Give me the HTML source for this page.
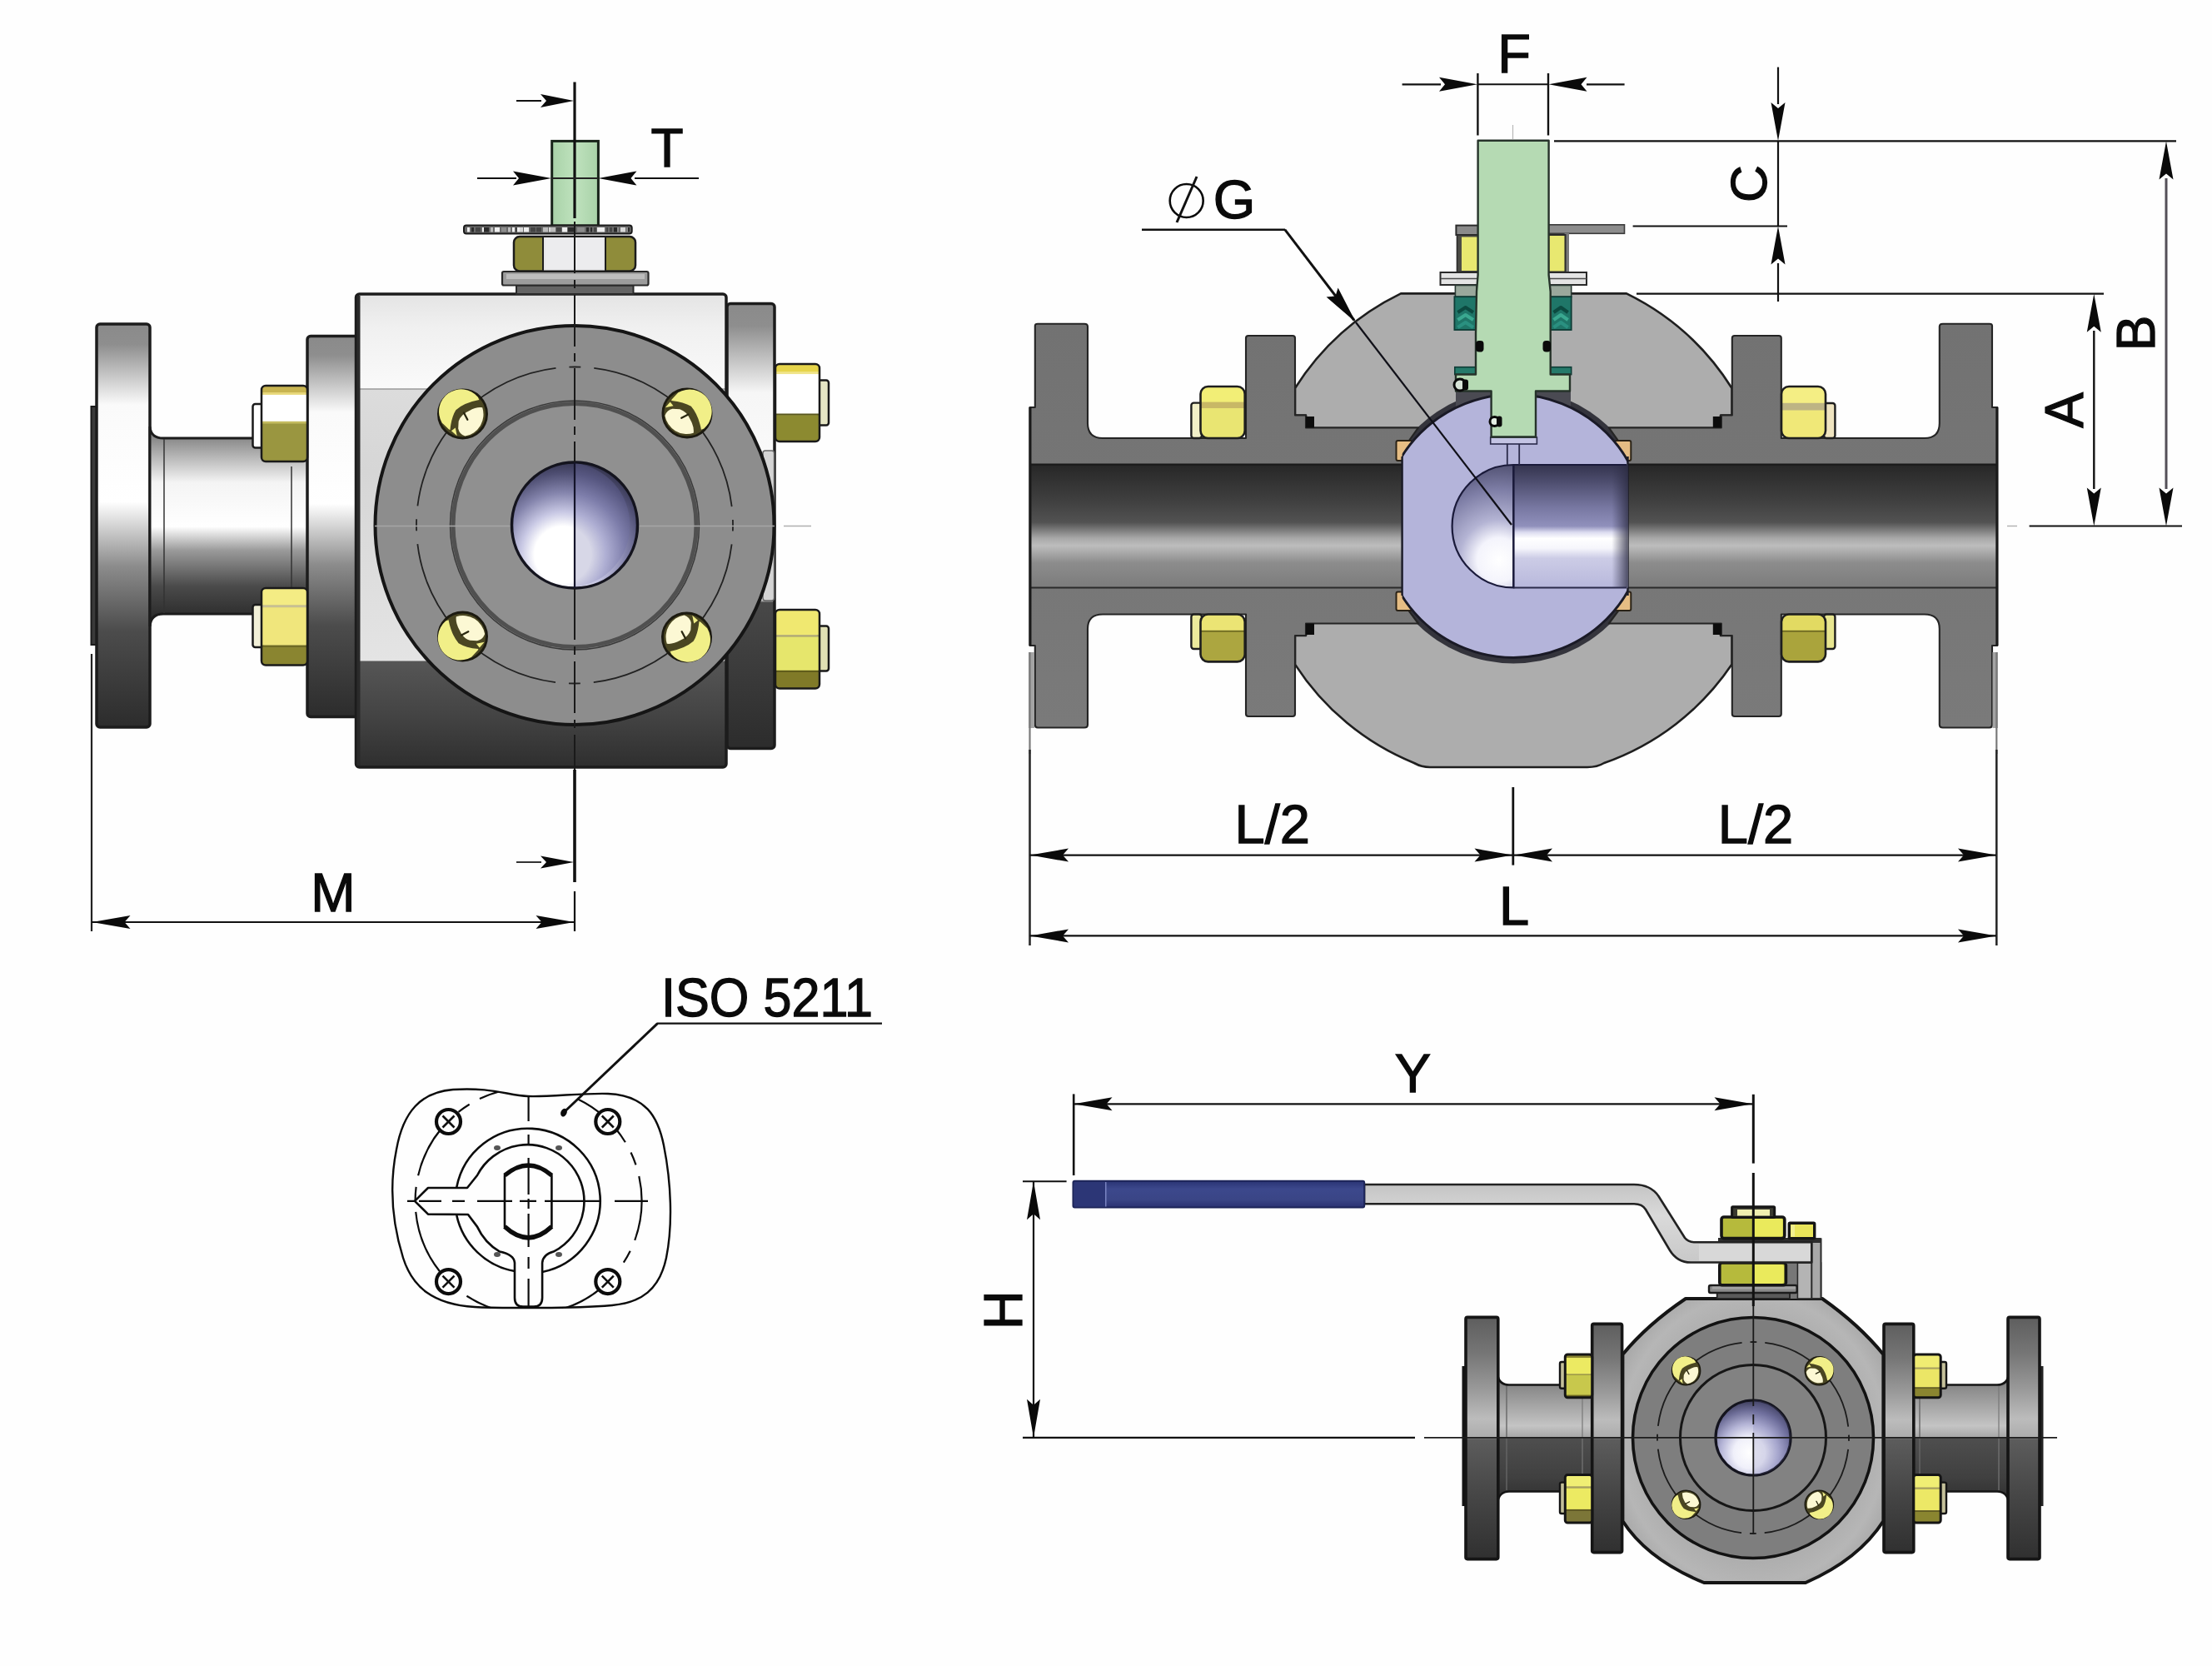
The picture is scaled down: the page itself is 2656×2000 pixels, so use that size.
<!DOCTYPE html>
<html><head><meta charset="utf-8"><title>Valve dimensions</title>
<style>
html,body{margin:0;padding:0;background:#fefefe;}
body{width:2656px;height:2000px;overflow:hidden;}
svg{display:block;font-family:"Liberation Sans",sans-serif;}
text{fill:#0a0a0a;stroke:#0a0a0a;stroke-width:1.3px;}
</style></head><body>
<svg width="2656" height="2000" viewBox="0 0 2656 2000">
<rect width="2656" height="2000" fill="#fefefe"/>
<defs><linearGradient id="fl1" x1="0" y1="0" x2="0" y2="1"><stop offset="0" stop-color="#8a8a8a"/><stop offset="0.05" stop-color="#8e8e8e"/><stop offset="0.2" stop-color="#fafafa"/><stop offset="0.44" stop-color="#ffffff"/><stop offset="0.6" stop-color="#8c8c8c"/><stop offset="0.76" stop-color="#4c4c4c"/><stop offset="1" stop-color="#2c2c2c"/></linearGradient><linearGradient id="fl1r" x1="0" y1="0" x2="0" y2="1"><stop offset="0" stop-color="#8a8a8a"/><stop offset="0.05" stop-color="#8e8e8e"/><stop offset="0.2" stop-color="#f6f6f6"/><stop offset="0.6" stop-color="#ffffff"/><stop offset="0.665" stop-color="#f4f4f4"/><stop offset="0.672" stop-color="#484848"/><stop offset="1" stop-color="#2c2c2c"/></linearGradient><linearGradient id="nk1" x1="0" y1="0" x2="0" y2="1"><stop offset="0" stop-color="#6c6c6c"/><stop offset="0.06" stop-color="#8a8a8a"/><stop offset="0.28" stop-color="#f4f4f4"/><stop offset="0.5" stop-color="#ffffff"/><stop offset="0.62" stop-color="#9a9a9a"/><stop offset="0.8" stop-color="#4a4a4a"/><stop offset="1" stop-color="#232323"/></linearGradient><linearGradient id="bodyTop" x1="0" y1="0" x2="0" y2="1"><stop offset="0" stop-color="#e4e4e4"/><stop offset="0.35" stop-color="#f0f0f0"/><stop offset="1" stop-color="#fafafa"/></linearGradient><linearGradient id="bodyMid" x1="0" y1="0" x2="0" y2="1"><stop offset="0" stop-color="#dcdcdc"/><stop offset="0.3" stop-color="#d6d6d6"/><stop offset="1" stop-color="#e4e4e4"/></linearGradient><linearGradient id="bodyDark" x1="0" y1="0" x2="0" y2="1"><stop offset="0" stop-color="#565656"/><stop offset="0.5" stop-color="#444444"/><stop offset="1" stop-color="#2e2e2e"/></linearGradient><linearGradient id="bore2" x1="0" y1="0" x2="0" y2="1"><stop offset="0" stop-color="#262626"/><stop offset="0.08" stop-color="#2e2e2e"/><stop offset="0.3" stop-color="#404040"/><stop offset="0.47" stop-color="#525252"/><stop offset="0.54" stop-color="#808080"/><stop offset="0.6" stop-color="#a8a8a8"/><stop offset="0.66" stop-color="#bdbdbd"/><stop offset="0.72" stop-color="#a8a8a8"/><stop offset="0.8" stop-color="#8c8c8c"/><stop offset="1" stop-color="#7c7c7c"/></linearGradient><linearGradient id="ballbore" x1="0" y1="0" x2="0" y2="1"><stop offset="0" stop-color="#34344e"/><stop offset="0.12" stop-color="#4a4a6a"/><stop offset="0.35" stop-color="#7878a2"/><stop offset="0.5" stop-color="#9090bc"/><stop offset="0.55" stop-color="#dcdcf0"/><stop offset="0.6" stop-color="#ffffff"/><stop offset="0.68" stop-color="#f6f6fc"/><stop offset="0.76" stop-color="#cccce6"/><stop offset="1" stop-color="#b8b8dc"/></linearGradient><linearGradient id="gry2" x1="0" y1="0" x2="0" y2="1"><stop offset="0" stop-color="#727272"/><stop offset="1" stop-color="#7a7a7a"/></linearGradient><linearGradient id="stemG" x1="0" y1="0" x2="1" y2="0"><stop offset="0" stop-color="#a8d2a8"/><stop offset="0.5" stop-color="#bfe2bd"/><stop offset="1" stop-color="#a8d2a8"/></linearGradient><linearGradient id="fl4" x1="0" y1="0" x2="0" y2="1"><stop offset="0" stop-color="#5e5e5e"/><stop offset="0.15" stop-color="#767676"/><stop offset="0.3" stop-color="#9a9a9a"/><stop offset="0.42" stop-color="#bcbcbc"/><stop offset="0.495" stop-color="#adadad"/><stop offset="0.505" stop-color="#5c5c5c"/><stop offset="0.75" stop-color="#454545"/><stop offset="1" stop-color="#303030"/></linearGradient><linearGradient id="nk4" x1="0" y1="0" x2="0" y2="1"><stop offset="0" stop-color="#6a6a6a"/><stop offset="0.1" stop-color="#8a8a8a"/><stop offset="0.3" stop-color="#b0b0b0"/><stop offset="0.4" stop-color="#c4c4c4"/><stop offset="0.485" stop-color="#a8a8a8"/><stop offset="0.5" stop-color="#4e4e4e"/><stop offset="0.8" stop-color="#404040"/><stop offset="1" stop-color="#2e2e2e"/></linearGradient><linearGradient id="grip" x1="0" y1="0" x2="0" y2="1"><stop offset="0" stop-color="#2a3474"/><stop offset="0.3" stop-color="#3c488c"/><stop offset="0.7" stop-color="#3a4586"/><stop offset="1" stop-color="#2a3272"/></linearGradient><linearGradient id="hbar" x1="0" y1="0" x2="0" y2="1"><stop offset="0" stop-color="#c4c4c4"/><stop offset="0.4" stop-color="#dadada"/><stop offset="1" stop-color="#c8c8c8"/></linearGradient><radialGradient id="bore1" cx="0.42" cy="0.72" r="0.75" fx="0.4" fy="0.74"><stop offset="0" stop-color="#ffffff"/><stop offset="0.3" stop-color="#ffffff"/><stop offset="0.45" stop-color="#c8c8e4"/><stop offset="0.65" stop-color="#8484ac"/><stop offset="0.85" stop-color="#4e4e72"/><stop offset="1" stop-color="#303048"/></radialGradient><radialGradient id="port2" gradientUnits="userSpaceOnUse" cx="1800" cy="672" r="120"><stop offset="0" stop-color="#ffffff"/><stop offset="0.22" stop-color="#f4f4fc"/><stop offset="0.4" stop-color="#b4b4d4"/><stop offset="0.7" stop-color="#7e7ea6"/><stop offset="1" stop-color="#4a4a6a"/></radialGradient><radialGradient id="bore4" cx="0.45" cy="0.7" r="0.7"><stop offset="0" stop-color="#ffffff"/><stop offset="0.3" stop-color="#f0f0fa"/><stop offset="0.55" stop-color="#b4b4d6"/><stop offset="0.8" stop-color="#6e6e98"/><stop offset="1" stop-color="#3c3c5a"/></radialGradient></defs>
<rect x="109.5" y="488.0" width="8.5" height="286.0" fill="#3a3a3a" stroke="#1a1a1a" stroke-width="2.00" />
<rect x="116.0" y="389.0" width="64.0" height="484.0" fill="url(#fl1)" stroke="#1c1c1c" stroke-width="3.50" rx="4.0" />
<path d="M180 512 Q181 526 196 526 L372 526 L372 737 L196 737 Q181 737 180 752 Z" fill="url(#nk1)" stroke="#1c1c1c" stroke-width="3"/>
<line x1="197.0" y1="527.0" x2="197.0" y2="736.0" stroke="#333" stroke-width="1.50" />
<line x1="350.0" y1="560.0" x2="350.0" y2="706.0" stroke="#333" stroke-width="1.50" />
<rect x="369.0" y="403.5" width="61.0" height="457.0" fill="url(#fl1)" stroke="#1c1c1c" stroke-width="3.50" rx="4.0" />
<rect x="303.5" y="485.0" width="12.5" height="52.5" fill="#ffffff" stroke="#1a1a1a" stroke-width="2.50" rx="3.0" /><clipPath id="cp314463"><rect x="314.0" y="463.0" width="55.0" height="91.0" rx="5"/></clipPath><g clip-path="url(#cp314463)"><rect x="314.0" y="463.0" width="55.0" height="8.7" fill="#c8b450" /><rect x="314.0" y="471.2" width="55.0" height="3.2" fill="#e8d878" /><rect x="314.0" y="473.9" width="55.0" height="32.3" fill="#ffffff" /><rect x="314.0" y="505.8" width="55.0" height="3.2" fill="#c4bc60" /><rect x="314.0" y="508.5" width="55.0" height="46.0" fill="#9a9640" /></g><rect x="314.0" y="463.0" width="55.0" height="91.0" fill="none" stroke="#1a1a1a" stroke-width="2.50" rx="5.0" />
<rect x="303.5" y="726.0" width="12.5" height="51.0" fill="#f2f0d8" stroke="#1a1a1a" stroke-width="2.50" rx="3.0" /><clipPath id="cp314706"><rect x="314.0" y="706.0" width="55.0" height="92.5" rx="5"/></clipPath><g clip-path="url(#cp314706)"><rect x="314.0" y="706.0" width="55.0" height="20.9" fill="#f4ec84" /><rect x="314.0" y="726.4" width="55.0" height="3.3" fill="#c8c094" /><rect x="314.0" y="729.1" width="55.0" height="45.8" fill="#f0e67c" /><rect x="314.0" y="774.5" width="55.0" height="3.3" fill="#6e6a24" /><rect x="314.0" y="777.2" width="55.0" height="21.8" fill="#8a8530" /></g><rect x="314.0" y="706.0" width="55.0" height="92.5" fill="none" stroke="#1a1a1a" stroke-width="2.50" rx="5.0" />
<rect x="873.0" y="364.5" width="57.0" height="534.0" fill="url(#fl1r)" stroke="#1c1c1c" stroke-width="3.50" rx="4.0" />
<rect x="916.0" y="541.0" width="13.5" height="180.0" fill="#d4d4d4" stroke="#666" stroke-width="1.50" rx="3.0" />
<rect x="982.0" y="456.5" width="13.0" height="54.0" fill="#e6e6c4" stroke="#1a1a1a" stroke-width="2.50" rx="3.0" /><clipPath id="cp931437"><rect x="931.0" y="437.0" width="53.0" height="93.0" rx="5"/></clipPath><g clip-path="url(#cp931437)"><rect x="931.0" y="437.0" width="53.0" height="9.8" fill="#e6d44a" /><rect x="931.0" y="446.3" width="53.0" height="3.3" fill="#f0e48a" /><rect x="931.0" y="449.1" width="53.0" height="47.9" fill="#ffffff" /><rect x="931.0" y="496.5" width="53.0" height="2.4" fill="#5a5820" /><rect x="931.0" y="498.4" width="53.0" height="32.1" fill="#8c8a30" /></g><rect x="931.0" y="437.0" width="53.0" height="93.0" fill="none" stroke="#1a1a1a" stroke-width="2.50" rx="5.0" />
<rect x="982.0" y="751.5" width="13.0" height="54.0" fill="#e0e0b4" stroke="#1a1a1a" stroke-width="2.50" rx="3.0" /><clipPath id="cp931732"><rect x="931.0" y="732.0" width="53.0" height="94.5" rx="5"/></clipPath><g clip-path="url(#cp931732)"><rect x="931.0" y="732.0" width="53.0" height="30.7" fill="#f0e870" /><rect x="931.0" y="762.2" width="53.0" height="2.9" fill="#b0a874" /><rect x="931.0" y="764.6" width="53.0" height="40.7" fill="#e6e66c" /><rect x="931.0" y="804.8" width="53.0" height="2.4" fill="#5a5618" /><rect x="931.0" y="806.7" width="53.0" height="20.3" fill="#807a28" /></g><rect x="931.0" y="732.0" width="53.0" height="94.5" fill="none" stroke="#1a1a1a" stroke-width="2.50" rx="5.0" />
<clipPath id="cpbody"><rect x="427.5" y="353" width="444.5" height="568" rx="4"/></clipPath>
<g clip-path="url(#cpbody)">
<rect x="427.0" y="353.0" width="446.0" height="115.0" fill="url(#bodyTop)" />
<rect x="427.0" y="467.0" width="446.0" height="327.0" fill="url(#bodyMid)" />
<rect x="427.0" y="793.5" width="446.0" height="128.5" fill="url(#bodyDark)" />
<line x1="432.0" y1="467.0" x2="873.0" y2="467.0" stroke="#9a9a9a" stroke-width="1.50" />
</g>
<rect x="427.5" y="353.0" width="444.5" height="568.0" fill="none" stroke="#1c1c1c" stroke-width="3.50" rx="4.0" />
<line x1="430.5" y1="355.0" x2="430.5" y2="919.0" stroke="#2a2a2a" stroke-width="4.00" />
<rect x="620.0" y="342.5" width="140.5" height="10.5" fill="#646464" stroke="#2a2a2a" stroke-width="2.00" />
<rect x="603.0" y="326.0" width="175.5" height="16.5" fill="#9c9c9c" stroke="#2a2a2a" stroke-width="2.20" rx="2.0" />
<rect x="608.0" y="329.0" width="166.0" height="6.0" fill="#bdbdbd" />
<rect x="617.0" y="284.0" width="146.0" height="41.5" fill="#8f8c3a" stroke="#1c1c1c" stroke-width="2.50" rx="7.0" />
<rect x="652.0" y="284.0" width="75.0" height="41.5" fill="#e6e6e8" stroke="#1c1c1c" stroke-width="2.00" />
<rect x="655.0" y="286.0" width="69.0" height="37.0" fill="#ececee" />
<rect x="662.7" y="169.4" width="55.7" height="101.6" fill="url(#stemG)" stroke="#18241a" stroke-width="3.00" />
<rect x="557.0" y="270.6" width="201.7" height="9.9" fill="#6a6a6a" stroke="#1a1a1a" stroke-width="2.00" rx="3.0" />
<rect x="561.0" y="273.0" width="3.0" height="5.5" fill="#eeeeee" />
<rect x="566.0" y="273.0" width="3.0" height="5.5" fill="#2a2a2a" />
<rect x="571.0" y="273.0" width="6.0" height="5.5" fill="#444" />
<rect x="579.0" y="273.0" width="2.0" height="5.5" fill="#eeeeee" />
<rect x="581.0" y="273.0" width="6.0" height="5.5" fill="#2a2a2a" />
<rect x="589.0" y="273.0" width="3.0" height="5.5" fill="#bcbcbc" />
<rect x="594.0" y="273.0" width="6.0" height="5.5" fill="#eeeeee" />
<rect x="602.0" y="273.0" width="6.0" height="5.5" fill="#8c8c8c" />
<rect x="610.0" y="273.0" width="3.0" height="5.5" fill="#bcbcbc" />
<rect x="615.0" y="273.0" width="3.0" height="5.5" fill="#eeeeee" />
<rect x="619.0" y="273.0" width="2.0" height="5.5" fill="#444" />
<rect x="621.0" y="273.0" width="3.0" height="5.5" fill="#eeeeee" />
<rect x="624.0" y="273.0" width="4.0" height="5.5" fill="#d8d8d8" />
<rect x="629.0" y="273.0" width="6.0" height="5.5" fill="#eeeeee" />
<rect x="637.0" y="273.0" width="6.0" height="5.5" fill="#444" />
<rect x="644.0" y="273.0" width="6.0" height="5.5" fill="#444" />
<rect x="652.0" y="273.0" width="6.0" height="5.5" fill="#bcbcbc" />
<rect x="659.0" y="273.0" width="2.0" height="5.5" fill="#d8d8d8" />
<rect x="661.0" y="273.0" width="6.0" height="5.5" fill="#bcbcbc" />
<rect x="668.0" y="273.0" width="6.0" height="5.5" fill="#444" />
<rect x="675.0" y="273.0" width="6.0" height="5.5" fill="#eeeeee" />
<rect x="682.0" y="273.0" width="9.0" height="5.5" fill="#2a2a2a" />
<rect x="693.0" y="273.0" width="9.0" height="5.5" fill="#8c8c8c" />
<rect x="704.0" y="273.0" width="3.0" height="5.5" fill="#2a2a2a" />
<rect x="709.0" y="273.0" width="2.0" height="5.5" fill="#2a2a2a" />
<rect x="713.0" y="273.0" width="3.0" height="5.5" fill="#444" />
<rect x="717.0" y="273.0" width="9.0" height="5.5" fill="#eeeeee" />
<rect x="728.0" y="273.0" width="2.0" height="5.5" fill="#444" />
<rect x="732.0" y="273.0" width="3.0" height="5.5" fill="#444" />
<rect x="737.0" y="273.0" width="4.0" height="5.5" fill="#2a2a2a" />
<rect x="741.0" y="273.0" width="2.0" height="5.5" fill="#8c8c8c" />
<rect x="745.0" y="273.0" width="6.0" height="5.5" fill="#d8d8d8" />
<rect x="752.0" y="273.0" width="2.0" height="5.5" fill="#8c8c8c" />
<rect x="754.0" y="273.0" width="2.0" height="5.5" fill="#2a2a2a" />
<circle cx="690" cy="630.5" r="239.5" fill="#8d8d8d" stroke="#151515" stroke-width="4"/>
<circle cx="690" cy="630.5" r="190" fill="none" stroke="#222" stroke-width="1.8" stroke-dasharray="14 16 252.45 16" stroke-dashoffset="7"/>
<circle cx="690" cy="630.5" r="146" fill="#909090" stroke="#505050" stroke-width="5"/>
<circle cx="690" cy="630.5" r="149.5" fill="none" stroke="#3a3a3a" stroke-width="1.5"/>
<line x1="450.0" y1="631.5" x2="930.0" y2="631.5" stroke="#a6a6a6" stroke-width="1.50" />
<line x1="941.0" y1="631.5" x2="974.0" y2="631.5" stroke="#b0b0b0" stroke-width="1.50" />
<circle cx="690" cy="630.5" r="75.5" fill="url(#bore1)" stroke="#14141e" stroke-width="3.5"/>
<path d="M690 556 A75 75 0 0 1 690 705 Z" fill="#7070a8" opacity="0.28"/>
<g transform="translate(555.5 497.0) rotate(0) scale(0.968)"><circle cx="0" cy="0" r="30" fill="#4a4622" stroke="#1c1a10" stroke-width="3"/><path d="M-27,-2 A27 27 0 0 1 -8,-26 L-6,-23 A24 24 0 0 0 -24,0 Z" fill="#d8d8d8"/><path d="M-17,19 L-25.5,11 A27.5 27.5 0 0 1 19,-21 L20.4,-17.5 Q2,-14 -8.4,-5 Q-14,4 -15.5,19.5 Z" fill="#f1ef88"/><path d="M-5,9 Q-2,0 8,-4 Q17,-9 24.5,-8 A27.5 27.5 0 0 1 3,27.5 Q-4,25 -5.5,18 Z" fill="#fcf8d4"/><path d="M-14,21 L-7,27 L-9,17 Z" fill="#f1ef88"/><path d="M1.5,-1.5 L6,7" stroke="#2a2810" stroke-width="2.4" fill="none" stroke-linecap="round"/></g>
<g transform="translate(825.0 496.0) rotate(90) scale(0.968)"><circle cx="0" cy="0" r="30" fill="#4a4622" stroke="#1c1a10" stroke-width="3"/><path d="M-27,-2 A27 27 0 0 1 -8,-26 L-6,-23 A24 24 0 0 0 -24,0 Z" fill="#d8d8d8"/><path d="M-17,19 L-25.5,11 A27.5 27.5 0 0 1 19,-21 L20.4,-17.5 Q2,-14 -8.4,-5 Q-14,4 -15.5,19.5 Z" fill="#f1ef88"/><path d="M-5,9 Q-2,0 8,-4 Q17,-9 24.5,-8 A27.5 27.5 0 0 1 3,27.5 Q-4,25 -5.5,18 Z" fill="#fcf8d4"/><path d="M-14,21 L-7,27 L-9,17 Z" fill="#f1ef88"/><path d="M1.5,-1.5 L6,7" stroke="#2a2810" stroke-width="2.4" fill="none" stroke-linecap="round"/></g>
<g transform="translate(555.5 764.0) rotate(-90) scale(0.968)"><circle cx="0" cy="0" r="30" fill="#4a4622" stroke="#1c1a10" stroke-width="3"/><path d="M-27,-2 A27 27 0 0 1 -8,-26 L-6,-23 A24 24 0 0 0 -24,0 Z" fill="#d8d8d8"/><path d="M-17,19 L-25.5,11 A27.5 27.5 0 0 1 19,-21 L20.4,-17.5 Q2,-14 -8.4,-5 Q-14,4 -15.5,19.5 Z" fill="#f1ef88"/><path d="M-5,9 Q-2,0 8,-4 Q17,-9 24.5,-8 A27.5 27.5 0 0 1 3,27.5 Q-4,25 -5.5,18 Z" fill="#fcf8d4"/><path d="M-14,21 L-7,27 L-9,17 Z" fill="#f1ef88"/><path d="M1.5,-1.5 L6,7" stroke="#2a2810" stroke-width="2.4" fill="none" stroke-linecap="round"/></g>
<g transform="translate(824.5 765.0) rotate(180) scale(0.968)"><circle cx="0" cy="0" r="30" fill="#4a4622" stroke="#1c1a10" stroke-width="3"/><path d="M-27,-2 A27 27 0 0 1 -8,-26 L-6,-23 A24 24 0 0 0 -24,0 Z" fill="#d8d8d8"/><path d="M-17,19 L-25.5,11 A27.5 27.5 0 0 1 19,-21 L20.4,-17.5 Q2,-14 -8.4,-5 Q-14,4 -15.5,19.5 Z" fill="#f1ef88"/><path d="M-5,9 Q-2,0 8,-4 Q17,-9 24.5,-8 A27.5 27.5 0 0 1 3,27.5 Q-4,25 -5.5,18 Z" fill="#fcf8d4"/><path d="M-14,21 L-7,27 L-9,17 Z" fill="#f1ef88"/><path d="M1.5,-1.5 L6,7" stroke="#2a2810" stroke-width="2.4" fill="none" stroke-linecap="round"/></g>
<line x1="690.0" y1="98.5" x2="690.0" y2="262.0" stroke="#111" stroke-width="3.20" />
<line x1="690.0" y1="262.0" x2="690.0" y2="924.0" stroke="#1a1a1a" stroke-width="2.00" stroke-dasharray="62 8 10 8" stroke-dashoffset="-4"/>
<line x1="690.0" y1="555.0" x2="690.0" y2="706.0" stroke="#14142a" stroke-width="2.20" />
<line x1="690.0" y1="924.0" x2="690.0" y2="1059.0" stroke="#111" stroke-width="3.60" />
<line x1="690.0" y1="1070.0" x2="690.0" y2="1118.0" stroke="#111" stroke-width="2.20" />
<line x1="620.0" y1="121.0" x2="650.0" y2="121.0" stroke="#111" stroke-width="2.00" />
<polygon fill="#0a0a0a" points="689.0,121.0 649.0,113.0 656.0,121.0 649.0,129.0"/>
<line x1="573.0" y1="214.0" x2="620.0" y2="214.0" stroke="#111" stroke-width="2.20" />
<polygon fill="#0a0a0a" points="662.0,214.0 616.0,205.5 623.0,214.0 616.0,222.5"/>
<line x1="762.0" y1="214.0" x2="839.0" y2="214.0" stroke="#111" stroke-width="2.20" />
<polygon fill="#0a0a0a" points="718.5,214.0 764.5,205.5 757.5,214.0 764.5,222.5"/>
<line x1="662.0" y1="214.0" x2="718.0" y2="214.0" stroke="#222" stroke-width="1.80" />
<text x="801.0" y="200.0" font-size="64" text-anchor="middle" >T</text>
<line x1="110.0" y1="785.0" x2="110.0" y2="1118.0" stroke="#222" stroke-width="2.20" />
<line x1="110.0" y1="1107.0" x2="690.0" y2="1107.0" stroke="#111" stroke-width="2.20" />
<polygon fill="#0a0a0a" points="110.5,1107.0 156.5,1099.0 149.5,1107.0 156.5,1115.0"/>
<polygon fill="#0a0a0a" points="689.5,1107.0 643.5,1099.0 650.5,1107.0 643.5,1115.0"/>
<text x="400.0" y="1093.5" font-size="64" text-anchor="middle" >M</text>
<line x1="620.0" y1="1035.0" x2="650.0" y2="1035.0" stroke="#333" stroke-width="2.00" />
<polygon fill="#0a0a0a" points="689.0,1035.0 649.0,1027.5 656.0,1035.0 649.0,1042.5"/>
<path d="M1682,352.4 L1953,352.4 A312 312 0 0 1 2079.5,466 L2079.5,498.5 L2066,498.5 L2066,513.4 L2066,748.5 L2066,763 L2079.5,763 L2079.5,797.6 A308 308 0 0 1 1926,916 Q1918,921 1906,921 L1717,921 Q1707,921 1698,916 A308 308 0 0 1 1555,797.6 L1555,763 L1568,763 L1568,498.5 L1555,498.5 L1555,466 A312 312 0 0 1 1682,352.4 Z" fill="#adadad" stroke="#1e1e1e" stroke-width="2.6" stroke-linejoin="round"/>
<circle cx="1817.3" cy="631.5" r="165" fill="#34343c"/>
<path d="M1236.5,489.0 L1242.8,489 L1242.8,391 Q1242.8,388.7 1246.0,388.7 L1302.0,388.7 Q1306.0,388.7 1306.0,392 L1306.0,508 Q1306.0,526 1324.0,526 L1496.0,526 L1496.0,406 Q1496.0,403 1499.0,403 L1552.0,403 Q1555.0,403 1555.0,406 L1555.0,498.5 L1568.0,498.5 L1568.0,513.4 L1703.0,513.4 L1684.0,540 L1684.0,723 L1703.0,748.5 L1568.0,748.5 L1568.0,763 L1555.0,763 L1555.0,857 Q1555.0,860 1552.0,860 L1499.0,860 Q1496.0,860 1496.0,857 L1496.0,737.5 L1324.0,737.5 Q1306.0,737.5 1306.0,755 L1306.0,870 Q1306.0,873.5 1302.0,873.5 L1246.0,873.5 Q1242.8,873.5 1242.8,870 L1242.8,775 L1236.5,775 Z" fill="url(#gry2)" stroke="#242424" stroke-width="2.1" stroke-linejoin="round"/><rect x="1236.5" y="557.7" width="447.5" height="147.5" fill="url(#bore2)" /><line x1="1236.5" y1="557.7" x2="1684.0" y2="557.7" stroke="#1a1a1a" stroke-width="2.20" /><line x1="1236.5" y1="705.5" x2="1684.0" y2="705.5" stroke="#2a2a2a" stroke-width="2.20" /><line x1="1237.0" y1="489.0" x2="1237.0" y2="775.0" stroke="#1a1a1a" stroke-width="3.00" /><rect x="1568.0" y="500.0" width="10.0" height="13.4" fill="#0c0c0c" /><rect x="1568.0" y="748.5" width="10.0" height="13.5" fill="#0c0c0c" /><rect x="1676.5" y="529.0" width="19.5" height="24.0" fill="#e6bd84" stroke="#2a2216" stroke-width="2.00" rx="2.0" /><rect x="1676.5" y="710.5" width="19.5" height="22.5" fill="#e6bd84" stroke="#2a2216" stroke-width="2.00" rx="2.0" />
<path d="M2398.3,489.0 L2392.0,489 L2392.0,391 Q2392.0,388.7 2388.8,388.7 L2332.8,388.7 Q2328.8,388.7 2328.8,392 L2328.8,508 Q2328.8,526 2310.8,526 L2138.8,526 L2138.8,406 Q2138.8,403 2135.8,403 L2082.8,403 Q2079.8,403 2079.8,406 L2079.8,498.5 L2066.8,498.5 L2066.8,513.4 L1931.8,513.4 L1950.8,540 L1950.8,723 L1931.8,748.5 L2066.8,748.5 L2066.8,763 L2079.8,763 L2079.8,857 Q2079.8,860 2082.8,860 L2135.8,860 Q2138.8,860 2138.8,857 L2138.8,737.5 L2310.8,737.5 Q2328.8,737.5 2328.8,755 L2328.8,870 Q2328.8,873.5 2332.8,873.5 L2388.8,873.5 Q2392.0,873.5 2392.0,870 L2392.0,775 L2398.3,775 Z" fill="url(#gry2)" stroke="#242424" stroke-width="2.1" stroke-linejoin="round"/><rect x="1950.8" y="557.7" width="447.5" height="147.5" fill="url(#bore2)" /><line x1="1950.8" y1="557.7" x2="2398.3" y2="557.7" stroke="#1a1a1a" stroke-width="2.20" /><line x1="1950.8" y1="705.5" x2="2398.3" y2="705.5" stroke="#2a2a2a" stroke-width="2.20" /><line x1="2397.8" y1="489.0" x2="2397.8" y2="775.0" stroke="#1a1a1a" stroke-width="3.00" /><rect x="2056.8" y="500.0" width="10.0" height="13.4" fill="#0c0c0c" /><rect x="2056.8" y="748.5" width="10.0" height="13.5" fill="#0c0c0c" /><rect x="1938.8" y="529.0" width="19.5" height="24.0" fill="#e6bd84" stroke="#2a2216" stroke-width="2.00" rx="2.0" /><rect x="1938.8" y="710.5" width="19.5" height="22.5" fill="#e6bd84" stroke="#2a2216" stroke-width="2.00" rx="2.0" />
<rect x="1430.4" y="483.6" width="12.6" height="42.4" fill="#f2f0c8" stroke="#1e1e1e" stroke-width="2.40" rx="3.0" /><clipPath id="n21441464"><rect x="1441.5" y="464.0" width="53.2" height="62.0" rx="9"/></clipPath><g clip-path="url(#n21441464)"><rect x="1441.5" y="464.0" width="53.2" height="19.1" fill="#f2ee76" /><rect x="1441.5" y="482.6" width="53.2" height="7.9" fill="#c8b866" /><rect x="1441.5" y="490.0" width="53.2" height="36.5" fill="#e9e572" /></g><rect x="1441.5" y="464.0" width="53.2" height="62.0" fill="none" stroke="#1e1e1e" stroke-width="2.60" rx="9.0" />
<rect x="1430.4" y="737.5" width="12.6" height="41.5" fill="#ecea9c" stroke="#1e1e1e" stroke-width="2.40" rx="3.0" /><clipPath id="n21441737"><rect x="1441.5" y="737.5" width="53.2" height="56.9" rx="9"/></clipPath><g clip-path="url(#n21441737)"><rect x="1441.5" y="737.5" width="53.2" height="19.8" fill="#ebe474" /><rect x="1441.5" y="756.8" width="53.2" height="2.2" fill="#6c6820" /><rect x="1441.5" y="758.6" width="53.2" height="36.3" fill="#aca640" /></g><rect x="1441.5" y="737.5" width="53.2" height="56.9" fill="none" stroke="#1e1e1e" stroke-width="2.60" rx="9.0" />
<rect x="2190.0" y="484.0" width="13.4" height="42.0" fill="#efe4c0" stroke="#1e1e1e" stroke-width="2.40" rx="3.0" /><clipPath id="n22139464"><rect x="2139.0" y="464.0" width="53.0" height="62.0" rx="9"/></clipPath><g clip-path="url(#n22139464)"><rect x="2139.0" y="464.0" width="53.0" height="20.3" fill="#f4ee84" /><rect x="2139.0" y="483.8" width="53.0" height="9.2" fill="#bdb484" /><rect x="2139.0" y="492.5" width="53.0" height="34.0" fill="#f0e878" /></g><rect x="2139.0" y="464.0" width="53.0" height="62.0" fill="none" stroke="#1e1e1e" stroke-width="2.60" rx="9.0" />
<rect x="2190.0" y="737.5" width="13.4" height="41.5" fill="#e8e690" stroke="#1e1e1e" stroke-width="2.40" rx="3.0" /><clipPath id="n22139737"><rect x="2139.0" y="737.5" width="53.0" height="56.9" rx="9"/></clipPath><g clip-path="url(#n22139737)"><rect x="2139.0" y="737.5" width="53.0" height="19.8" fill="#e2da62" /><rect x="2139.0" y="756.8" width="53.0" height="2.2" fill="#6c6820" /><rect x="2139.0" y="758.6" width="53.0" height="36.3" fill="#aaa43c" /></g><rect x="2139.0" y="737.5" width="53.0" height="56.9" fill="none" stroke="#1e1e1e" stroke-width="2.60" rx="9.0" />
<rect x="1748.0" y="466.0" width="138.0" height="26.0" fill="#4a4a52" />
<clipPath id="ballclip"><rect x="1683.6" y="460" width="270.9" height="340"/></clipPath>
<g clip-path="url(#ballclip)">
<circle cx="1817.3" cy="631.5" r="158" fill="#b4b4da" stroke="#1a1a26" stroke-width="3"/>
</g>
<line x1="1683.6" y1="548.0" x2="1683.6" y2="715.0" stroke="#1a1a26" stroke-width="2.40" />
<line x1="1954.5" y1="548.0" x2="1954.5" y2="715.0" stroke="#1a1a26" stroke-width="2.40" />
<rect x="1817.3" y="558.0" width="137.2" height="147.4" fill="url(#ballbore)" />
<linearGradient id="bsh" x1="0" y1="0" x2="1" y2="0"><stop offset="0" stop-color="#30304a" stop-opacity="0"/><stop offset="0.86" stop-color="#30304a" stop-opacity="0"/><stop offset="1" stop-color="#2a2a40" stop-opacity="0.75"/></linearGradient>
<rect x="1817.3" y="558.0" width="137.2" height="147.4" fill="url(#bsh)" />
<path d="M1817.3,558 A73.7 73.7 0 0 0 1817.3,705.4 Z" fill="url(#port2)" stroke="#1a1a3a" stroke-width="2.2"/>
<line x1="1817.3" y1="558.0" x2="1953.0" y2="558.0" stroke="#1a1a3a" stroke-width="2.00" />
<line x1="1817.3" y1="705.4" x2="1953.0" y2="705.4" stroke="#2a2a4a" stroke-width="2.00" />
<line x1="1817.3" y1="558.0" x2="1817.3" y2="705.4" stroke="#1a1a3a" stroke-width="2.00" />
<rect x="1789.7" y="525.0" width="55.7" height="8.0" fill="#c4c4e4" stroke="#2a2a4a" stroke-width="1.60" />
<line x1="1809.8" y1="533.0" x2="1809.8" y2="558.0" stroke="#2a2a4a" stroke-width="1.80" />
<line x1="1824.2" y1="533.0" x2="1824.2" y2="558.0" stroke="#2a2a4a" stroke-width="1.80" />
<rect x="1748.4" y="270.6" width="27.6" height="11.4" fill="#8a8a8a" stroke="#2a2a2a" stroke-width="2.00" />
<rect x="1859.0" y="269.8" width="91.5" height="10.5" fill="#8c8c8c" stroke="#3a3a3a" stroke-width="1.60" />
<rect x="1878.6" y="280.0" width="5.4" height="46.0" fill="#7a7a7a" />
<rect x="1749.5" y="282.0" width="26.5" height="44.5" fill="#4c4c46" stroke="#2a2a2a" stroke-width="1.60" />
<rect x="1755.0" y="284.5" width="20.0" height="40.5" fill="#e8e870" />
<rect x="1859.0" y="282.0" width="20.5" height="44.5" fill="#e8e870" stroke="#2a2a2a" stroke-width="2.00" />
<rect x="1729.5" y="327.0" width="46.5" height="15.0" fill="#e4e4e4" stroke="#2a2a2a" stroke-width="2.00" />
<line x1="1730.0" y1="334.5" x2="1776.0" y2="334.5" stroke="#4a4a4a" stroke-width="1.60" />
<rect x="1859.0" y="327.0" width="46.0" height="15.0" fill="#e4e4e4" stroke="#2a2a2a" stroke-width="2.00" />
<line x1="1859.0" y1="334.5" x2="1905.0" y2="334.5" stroke="#4a4a4a" stroke-width="1.60" />
<rect x="1747.4" y="342.5" width="25.6" height="14.0" fill="#9aa89c" stroke="#2a3a34" stroke-width="1.60" />
<rect x="1861.0" y="342.5" width="25.7" height="14.0" fill="#9aa89c" stroke="#2a3a34" stroke-width="1.60" />
<rect x="1746.4" y="356.2" width="26.6" height="39.8" fill="#1f7668" stroke="#0e3c36" stroke-width="1.80" />
<path d="M1750.4,375.0 L1759.7,369.0 L1769.0,375.0" fill="none" stroke="#0c4a40" stroke-width="4" stroke-linejoin="round"/>
<path d="M1750.4,384.0 L1759.7,378.0 L1769.0,384.0" fill="none" stroke="#3aa890" stroke-width="4" stroke-linejoin="round"/>
<path d="M1750.4,393.0 L1759.7,387.0 L1769.0,393.0" fill="none" stroke="#2a9080" stroke-width="4" stroke-linejoin="round"/>
<rect x="1861.5" y="356.2" width="25.2" height="39.8" fill="#1f7668" stroke="#0e3c36" stroke-width="1.80" />
<path d="M1865.5,375.0 L1874.1,369.0 L1882.7,375.0" fill="none" stroke="#0c4a40" stroke-width="4" stroke-linejoin="round"/>
<path d="M1865.5,384.0 L1874.1,378.0 L1882.7,384.0" fill="none" stroke="#3aa890" stroke-width="4" stroke-linejoin="round"/>
<path d="M1865.5,393.0 L1874.1,387.0 L1882.7,393.0" fill="none" stroke="#2a9080" stroke-width="4" stroke-linejoin="round"/>
<rect x="1746.8" y="440.7" width="26.2" height="8.9" fill="#257a6a" stroke="#0e3c36" stroke-width="1.60" />
<rect x="1861.0" y="440.7" width="25.7" height="8.9" fill="#257a6a" stroke="#0e3c36" stroke-width="1.60" />
<path d="M1774.6,168.7 L1859.6,168.7 L1859.6,330 L1861.7,350 L1861.7,449.5 L1885,449.5 L1885,469.5 L1844,469.5 L1844,524.5 L1790.6,524.5 L1790.6,469.5 L1748,469.5 L1748,449.5 L1772,449.5 L1772,400 L1773,350 L1774.6,330 Z" fill="#b5dab3" stroke="#26332a" stroke-width="2.4" stroke-linejoin="round"/>
<rect x="1772.0" y="409.0" width="9.5" height="13.5" fill="#0a0a0a" rx="4.0" />
<rect x="1852.5" y="409.0" width="9.5" height="13.5" fill="#0a0a0a" rx="4.0" />
<circle cx="1753" cy="462" r="7" fill="#d8e4d8" stroke="#0a0a0a" stroke-width="3"/>
<rect x="1756.0" y="455.5" width="7.0" height="13.0" fill="#0a0a0a" rx="3.0" />
<circle cx="1794.5" cy="506" r="5.5" fill="#e4efe4" stroke="#0a0a0a" stroke-width="3"/>
<rect x="1797.0" y="499.5" width="6.5" height="13.0" fill="#0a0a0a" rx="3.0" />
<line x1="1816.5" y1="150.0" x2="1816.5" y2="167.0" stroke="#b8b8b8" stroke-width="1.20" />
<text x="1818.0" y="87.0" font-size="65" text-anchor="middle" >F</text>
<line x1="1774.4" y1="88.0" x2="1774.4" y2="162.5" stroke="#111" stroke-width="2.40" />
<line x1="1859.0" y1="88.0" x2="1859.0" y2="162.5" stroke="#111" stroke-width="2.40" />
<line x1="1683.6" y1="101.3" x2="1730.0" y2="101.3" stroke="#111" stroke-width="2.20" />
<polygon fill="#0a0a0a" points="1774.0,101.3 1728.0,92.8 1735.0,101.3 1728.0,109.8"/>
<line x1="1774.0" y1="101.3" x2="1859.0" y2="101.3" stroke="#111" stroke-width="2.00" />
<polygon fill="#0a0a0a" points="1859.5,101.3 1905.5,92.8 1898.5,101.3 1905.5,109.8"/>
<line x1="1905.0" y1="101.3" x2="1950.6" y2="101.3" stroke="#111" stroke-width="2.20" />
<circle cx="1424.7" cy="241" r="20" fill="none" stroke="#0a0a0a" stroke-width="2.6"/>
<line x1="1413.0" y1="267.0" x2="1437.0" y2="212.0" stroke="#111" stroke-width="3.00" />
<text x="1482.0" y="262.0" font-size="65" text-anchor="middle" >G</text>
<line x1="1371.0" y1="275.7" x2="1543.0" y2="275.7" stroke="#111" stroke-width="2.40" />
<line x1="1542.8" y1="275.7" x2="1626.0" y2="384.5" stroke="#111" stroke-width="3.00" />
<polygon fill="#0a0a0a" points="1628,387 1592.6,356.5 1603.5,355.5 1606.6,345.5"/>
<line x1="1628.0" y1="387.0" x2="1815.0" y2="630.0" stroke="#101018" stroke-width="2.20" />
<line x1="1866.0" y1="169.4" x2="2613.0" y2="169.4" stroke="#111" stroke-width="2.20" />
<line x1="1960.6" y1="271.5" x2="2146.0" y2="271.5" stroke="#111" stroke-width="2.20" />
<line x1="1965.0" y1="352.7" x2="2526.0" y2="352.7" stroke="#111" stroke-width="2.20" />
<line x1="2135.0" y1="80.6" x2="2135.0" y2="125.0" stroke="#111" stroke-width="2.20" />
<polygon fill="#0a0a0a" points="2135.0,169.0 2126.5,123.0 2135.0,130.0 2143.5,123.0"/>
<line x1="2135.0" y1="169.0" x2="2135.0" y2="271.0" stroke="#111" stroke-width="2.20" />
<polygon fill="#0a0a0a" points="2135.0,271.5 2126.5,317.5 2135.0,310.5 2143.5,317.5"/>
<line x1="2135.0" y1="316.0" x2="2135.0" y2="362.0" stroke="#111" stroke-width="2.20" />
<text transform="translate(2121.3,220.5) rotate(-90)" font-size="62" text-anchor="middle">C</text>
<polygon fill="#0a0a0a" points="2514.3,352.7 2505.8,398.7 2514.3,391.7 2522.8,398.7"/>
<line x1="2514.3" y1="397.0" x2="2514.3" y2="587.0" stroke="#111" stroke-width="2.40" />
<polygon fill="#0a0a0a" points="2514.3,631.5 2505.8,585.5 2514.3,592.5 2522.8,585.5"/>
<polygon fill="#0a0a0a" points="2601.0,169.4 2592.5,215.4 2601.0,208.4 2609.5,215.4"/>
<line x1="2601.0" y1="214.0" x2="2601.0" y2="587.0" stroke="#545058" stroke-width="3.00" />
<polygon fill="#0a0a0a" points="2601.0,631.5 2592.5,585.5 2601.0,592.5 2609.5,585.5"/>
<text transform="translate(2586.5,400) rotate(-90)" font-size="64" text-anchor="middle">B</text>
<text transform="translate(2500.6,492.5) rotate(-90)" font-size="64" text-anchor="middle">A</text>
<line x1="2436.6" y1="631.5" x2="2620.0" y2="631.5" stroke="#111" stroke-width="2.20" />
<line x1="2410.0" y1="631.5" x2="2422.0" y2="631.5" stroke="#b0b0b0" stroke-width="1.40" />
<rect x="1235.0" y="783.0" width="7.0" height="91.0" fill="#a4a4a4" />
<rect x="2392.5" y="783.0" width="6.5" height="91.0" fill="#a4a4a4" />
<line x1="1236.5" y1="783.0" x2="1236.5" y2="905.0" stroke="#7a7a7a" stroke-width="2.20" />
<line x1="2397.3" y1="783.0" x2="2397.3" y2="905.0" stroke="#7a7a7a" stroke-width="2.20" />
<line x1="1236.5" y1="900.0" x2="1236.5" y2="1135.0" stroke="#2a2a2a" stroke-width="2.60" />
<line x1="2397.3" y1="900.0" x2="2397.3" y2="1135.0" stroke="#2a2a2a" stroke-width="2.60" />
<line x1="1236.5" y1="1026.6" x2="2397.0" y2="1026.6" stroke="#111" stroke-width="2.20" />
<line x1="1236.5" y1="1123.4" x2="2397.0" y2="1123.4" stroke="#111" stroke-width="2.20" />
<line x1="1816.8" y1="945.0" x2="1816.8" y2="1038.6" stroke="#111" stroke-width="2.80" />
<polygon fill="#0a0a0a" points="1237.0,1026.6 1283.0,1018.6 1276.0,1026.6 1283.0,1034.6"/>
<polygon fill="#0a0a0a" points="1816.5,1026.6 1770.5,1018.6 1777.5,1026.6 1770.5,1034.6"/>
<polygon fill="#0a0a0a" points="1818.0,1026.6 1864.0,1018.6 1857.0,1026.6 1864.0,1034.6"/>
<polygon fill="#0a0a0a" points="2397.0,1026.6 2351.0,1018.6 2358.0,1026.6 2351.0,1034.6"/>
<polygon fill="#0a0a0a" points="1237.0,1123.4 1283.0,1115.4 1276.0,1123.4 1283.0,1131.4"/>
<polygon fill="#0a0a0a" points="2397.0,1123.4 2351.0,1115.4 2358.0,1123.4 2351.0,1131.4"/>
<text x="1527.7" y="1012.3" font-size="65" text-anchor="middle" >L/2</text>
<text x="2108.0" y="1012.3" font-size="65" text-anchor="middle" >L/2</text>
<text x="1818.0" y="1109.5" font-size="65" text-anchor="middle" >L</text>
<text x="794" y="1220" font-size="65" textLength="254" lengthAdjust="spacingAndGlyphs">ISO 5211</text>
<line x1="789.0" y1="1228.6" x2="1059.0" y2="1228.6" stroke="#111" stroke-width="2.40" />
<path d="M544,1308 C590,1305 610,1315 634,1316 C660,1317 700,1312 730,1313 C775,1315 790,1340 797,1375 C806,1420 808,1470 800,1510 C792,1548 770,1564 735,1567 C700,1570 680,1570 650,1570 L619,1570 C600,1570 585,1570 570,1569 C520,1566 495,1545 484,1510 C470,1465 468,1420 476,1380 C484,1335 505,1311 544,1308 Z" fill="#fefefe" stroke="#0c0c0c" stroke-width="2.4"/>
<clipPath id="platecp"><path d="M544,1308 C590,1305 610,1315 634,1316 C660,1317 700,1312 730,1313 C775,1315 790,1340 797,1375 C806,1420 808,1470 800,1510 C792,1548 770,1564 735,1567 C700,1570 680,1570 650,1570 L619,1570 C600,1570 585,1570 570,1569 C520,1566 495,1545 484,1510 C470,1465 468,1420 476,1380 C484,1335 505,1311 544,1308 Z"/></clipPath>
<line x1="789.5" y1="1228.6" x2="679.0" y2="1333.5" stroke="#111" stroke-width="3.00" />
<ellipse cx="677" cy="1335.6" rx="3.6" ry="5" transform="rotate(25 677 1335.6)" fill="#0a0a0a"/>
<circle cx="634.6" cy="1441.8" r="136" fill="none" stroke="#0c0c0c" stroke-width="2.2" stroke-dasharray="78 14 16 14" stroke-dashoffset="30" clip-path="url(#platecp)"/>
<path d="M548.3,1425.3 A87 87 0 1 1 651,1527" fill="none" stroke="#0c0c0c" stroke-width="2.6"/>
<path d="M618,1526 A87 87 0 0 1 548.3,1459" fill="none" stroke="#0c0c0c" stroke-width="2.6"/>
<path d="M561,1426 L573,1411 A68 68 0 1 1 664.6,1502.6 Q652,1506 651.1,1516 L651.1,1558 Q651,1568.6 641,1568.6 L628,1568.6 Q618,1568.6 618,1558 L618,1516 Q617,1506 600,1502.6 A68 68 0 0 1 573,1472.6 L562,1458 L514,1457.6 L498,1441.8 L514,1426 Z" fill="#fefefe" stroke="#0c0c0c" stroke-width="2.6" stroke-linejoin="round"/>
<ellipse cx="597" cy="1378" rx="4" ry="3" fill="#555"/>
<ellipse cx="671" cy="1378" rx="4" ry="3" fill="#555"/>
<ellipse cx="597" cy="1506" rx="4" ry="3" fill="#555"/>
<ellipse cx="671" cy="1506" rx="4" ry="3" fill="#555"/>
<path d="M606,1411 Q634.5,1387 662.4,1411 L662.4,1472.6 Q634.5,1499 606,1472.6 Z" fill="#fefefe" stroke="#0c0c0c" stroke-width="2.6"/>
<path d="M606,1411 Q634.5,1387 662.4,1411" fill="none" stroke="#0c0c0c" stroke-width="5.5"/>
<path d="M606,1472.6 Q634.5,1499 662.4,1472.6" fill="none" stroke="#0c0c0c" stroke-width="5.5"/>
<circle cx="538.5" cy="1346.5" r="14.5" fill="#fefefe" stroke="#0c0c0c" stroke-width="4.2"/>
<line x1="531.5" y1="1339.5" x2="545.5" y2="1353.5" stroke="#111" stroke-width="2.60" />
<line x1="531.5" y1="1353.5" x2="545.5" y2="1339.5" stroke="#111" stroke-width="2.60" />
<circle cx="729.8" cy="1346.5" r="14.5" fill="#fefefe" stroke="#0c0c0c" stroke-width="4.2"/>
<line x1="722.8" y1="1339.5" x2="736.8" y2="1353.5" stroke="#111" stroke-width="2.60" />
<line x1="722.8" y1="1353.5" x2="736.8" y2="1339.5" stroke="#111" stroke-width="2.60" />
<circle cx="538.5" cy="1538.6" r="14.5" fill="#fefefe" stroke="#0c0c0c" stroke-width="4.2"/>
<line x1="531.5" y1="1531.6" x2="545.5" y2="1545.6" stroke="#111" stroke-width="2.60" />
<line x1="531.5" y1="1545.6" x2="545.5" y2="1531.6" stroke="#111" stroke-width="2.60" />
<circle cx="729.8" cy="1538.6" r="14.5" fill="#fefefe" stroke="#0c0c0c" stroke-width="4.2"/>
<line x1="722.8" y1="1531.6" x2="736.8" y2="1545.6" stroke="#111" stroke-width="2.60" />
<line x1="722.8" y1="1545.6" x2="736.8" y2="1531.6" stroke="#111" stroke-width="2.60" />
<line x1="634.6" y1="1316.0" x2="634.6" y2="1569.0" stroke="#0c0c0c" stroke-width="2.20" stroke-dasharray="30 16 12 16 44 5 12 6 40 12 14 12 200"/>
<line x1="489.0" y1="1441.8" x2="779.0" y2="1441.8" stroke="#0c0c0c" stroke-width="2.20" stroke-dasharray="9 5 27 13 15 15 42 9 20 10 66 18 40"/>
<rect x="1755.5" y="1640.0" width="6.5" height="168.0" fill="#141414" />
<rect x="2447.0" y="1640.0" width="6.5" height="168.0" fill="#242424" />
<path d="M1798,1650 Q1800,1662.5 1812,1662.5 L1914,1662.5 L1914,1790.5 L1812,1790.5 Q1800,1790.5 1798,1804 Z" fill="url(#nk4)" stroke="#151515" stroke-width="2.6"/>
<path d="M2412,1650 Q2410,1662.5 2398,1662.5 L2296,1662.5 L2296,1790.5 L2398,1790.5 Q2410,1790.5 2412,1804 Z" fill="url(#nk4)" stroke="#151515" stroke-width="2.6"/>
<line x1="1809.0" y1="1664.0" x2="1809.0" y2="1789.0" stroke="#666" stroke-width="1.40" />
<line x1="2305.0" y1="1664.0" x2="2305.0" y2="1789.0" stroke="#666" stroke-width="1.40" />
<line x1="1900.0" y1="1664.0" x2="1900.0" y2="1789.0" stroke="#777" stroke-width="1.20" />
<line x1="2400.0" y1="1664.0" x2="2400.0" y2="1789.0" stroke="#777" stroke-width="1.20" />
<rect x="1760.0" y="1581.4" width="38.8" height="290.2" fill="url(#fl4)" stroke="#151515" stroke-width="3.60" rx="2.0" />
<rect x="1911.7" y="1589.4" width="35.9" height="274.2" fill="url(#fl4)" stroke="#151515" stroke-width="3.60" rx="2.0" />
<rect x="2262.0" y="1589.4" width="35.8" height="274.2" fill="url(#fl4)" stroke="#151515" stroke-width="3.60" rx="2.0" />
<rect x="2411.0" y="1581.4" width="38.0" height="290.2" fill="url(#fl4)" stroke="#151515" stroke-width="3.60" rx="2.0" />
<rect x="1873.0" y="1635.0" width="8.0" height="31.7" fill="#c4c09a" stroke="#151515" stroke-width="2.40" rx="2.0" /><clipPath id="n418791626"><rect x="1879.3" y="1626.0" width="32.4" height="51.7" rx="3"/></clipPath><g clip-path="url(#n418791626)"><rect x="1879.3" y="1626.0" width="32.4" height="4.6" fill="#8a8430" /><rect x="1879.3" y="1630.1" width="32.4" height="19.6" fill="#ecea62" /><rect x="1879.3" y="1649.3" width="32.4" height="2.1" fill="#9a9440" /><rect x="1879.3" y="1650.8" width="32.4" height="24.3" fill="#c8c84c" /><rect x="1879.3" y="1674.6" width="32.4" height="3.6" fill="#6a6420" /></g><rect x="1879.3" y="1626.0" width="32.4" height="51.7" fill="none" stroke="#151515" stroke-width="3.00" rx="3.0" />
<rect x="1873.0" y="1779.6" width="8.0" height="37.4" fill="#c4c09a" stroke="#151515" stroke-width="2.40" rx="2.0" /><clipPath id="n418791770"><rect x="1879.3" y="1770.6" width="32.4" height="57.4" rx="3"/></clipPath><g clip-path="url(#n418791770)"><rect x="1879.3" y="1770.6" width="32.4" height="14.3" fill="#f0ee74" /><rect x="1879.3" y="1784.4" width="32.4" height="2.8" fill="#a8a060" /><rect x="1879.3" y="1786.7" width="32.4" height="25.8" fill="#ecea62" /><rect x="1879.3" y="1811.9" width="32.4" height="2.2" fill="#5a5420" /><rect x="1879.3" y="1813.7" width="32.4" height="14.8" fill="#7c7638" /></g><rect x="1879.3" y="1770.6" width="32.4" height="57.4" fill="none" stroke="#151515" stroke-width="3.00" rx="3.0" />
<rect x="2329.0" y="1635.0" width="8.0" height="31.7" fill="#c4c09a" stroke="#151515" stroke-width="2.40" rx="2.0" /><clipPath id="n422971626"><rect x="2297.8" y="1626.0" width="32.4" height="51.7" rx="3"/></clipPath><g clip-path="url(#n422971626)"><rect x="2297.8" y="1626.0" width="32.4" height="16.0" fill="#f0ec72" /><rect x="2297.8" y="1641.5" width="32.4" height="2.6" fill="#a8a060" /><rect x="2297.8" y="1643.6" width="32.4" height="22.2" fill="#ebe666" /><rect x="2297.8" y="1665.3" width="32.4" height="2.1" fill="#5a5420" /><rect x="2297.8" y="1666.8" width="32.4" height="11.4" fill="#8a8530" /></g><rect x="2297.8" y="1626.0" width="32.4" height="51.7" fill="none" stroke="#151515" stroke-width="3.00" rx="3.0" />
<rect x="2329.0" y="1779.6" width="8.0" height="37.4" fill="#c4c09a" stroke="#151515" stroke-width="2.40" rx="2.0" /><clipPath id="n422971770"><rect x="2297.8" y="1770.6" width="32.4" height="57.4" rx="3"/></clipPath><g clip-path="url(#n422971770)"><rect x="2297.8" y="1770.6" width="32.4" height="15.4" fill="#f0ee74" /><rect x="2297.8" y="1785.5" width="32.4" height="2.8" fill="#a8a060" /><rect x="2297.8" y="1787.8" width="32.4" height="25.8" fill="#ece866" /><rect x="2297.8" y="1813.1" width="32.4" height="2.2" fill="#5a5420" /><rect x="2297.8" y="1814.8" width="32.4" height="13.7" fill="#8a8530" /></g><rect x="2297.8" y="1770.6" width="32.4" height="57.4" fill="none" stroke="#151515" stroke-width="3.00" rx="3.0" />
<radialGradient id="body4" cx="0.5" cy="0.5" r="0.6"><stop offset="0.6" stop-color="#a8a8a8"/><stop offset="0.85" stop-color="#b6b6b6"/><stop offset="1" stop-color="#a4a4a4"/></radialGradient>
<path d="M2024,1559 L2188,1559 Q2232,1590 2261.4,1626 L2261.4,1826 Q2232,1872 2168,1900 L2046,1900 Q1978,1872 1948.4,1826 L1948.4,1626 Q1978,1590 2024,1559 Z" fill="url(#body4)" stroke="#151515" stroke-width="4" stroke-linejoin="round"/>
<rect x="2146.0" y="1516.0" width="12.4" height="43.0" fill="#777777" />
<rect x="2158.4" y="1516.0" width="28.1" height="43.0" fill="#b4b4b4" stroke="#2a2a2a" stroke-width="1.60" />
<rect x="2175.3" y="1487.4" width="11.2" height="71.6" fill="#a8a8a8" stroke="#2a2a2a" stroke-width="2.00" />
<rect x="2061.7" y="1552.0" width="87.3" height="7.0" fill="#5a5a5a" stroke="#222" stroke-width="1.80" />
<rect x="2052.0" y="1543.0" width="105.7" height="9.0" fill="#8a8a8a" stroke="#1c1c1c" stroke-width="2.40" rx="2.0" />
<rect x="2056.0" y="1544.5" width="100.0" height="3.0" fill="#a4a4a4" />
<rect x="2064.8" y="1516.0" width="79.6" height="26.8" fill="#b6ba3c" stroke="#151515" stroke-width="3.60" rx="3.0" />
<rect x="2105.0" y="1518.0" width="37.0" height="23.0" fill="#eaea5c" rx="3.0" />
<rect x="2063.0" y="1486.0" width="123.5" height="6.0" fill="#2c2c2c" />
<path d="M1638,1422 L1962,1422 Q1982,1422 1991.5,1436 L2023,1486 Q2027,1491.3 2036,1491.3 L2175.3,1491.3 L2175.3,1515.5 L2030,1515.5 Q2014,1515.5 2005,1501 L1976,1452 Q1972,1445.2 1962,1445.2 L1638,1445.2 Z" fill="url(#hbar)" stroke="#222" stroke-width="2.6" stroke-linejoin="round"/>
<rect x="2040.0" y="1493.5" width="133.5" height="20.0" fill="#d8d8d8" />
<rect x="1288.5" y="1417.8" width="349.7" height="31.7" fill="url(#grip)" stroke="#1c2458" stroke-width="2.00" rx="2.0" />
<rect x="1290.0" y="1419.0" width="37.0" height="29.5" fill="#2c3676" />
<line x1="1327.8" y1="1419.0" x2="1327.8" y2="1448.5" stroke="#8a94d0" stroke-width="1.20" />
<rect x="2067.0" y="1461.0" width="75.8" height="25.6" fill="#b6ba3c" stroke="#151515" stroke-width="3.60" rx="3.0" />
<rect x="2105.0" y="1463.0" width="35.6" height="21.6" fill="#eaea5c" rx="2.0" />
<rect x="2079.6" y="1448.7" width="51.1" height="12.8" fill="#3a3a30" stroke="#151515" stroke-width="3.00" rx="1.0" />
<rect x="2086.0" y="1452.0" width="39.0" height="7.5" fill="#f0efb0" />
<rect x="2148.3" y="1468.2" width="30.4" height="18.4" fill="#e8e45a" stroke="#151515" stroke-width="3.40" rx="1.0" />
<rect x="2150.5" y="1470.5" width="4.5" height="14.0" fill="#f0ee90" />
<circle cx="2105" cy="1726" r="144.5" fill="#7e7e7e" stroke="#121212" stroke-width="3.6"/>
<circle cx="2105" cy="1726" r="115" fill="none" stroke="#1c1c1c" stroke-width="1.8" stroke-dasharray="8 10 152.6 10" stroke-dashoffset="4"/>
<circle cx="2105" cy="1726" r="87.5" fill="#828282" stroke="#161616" stroke-width="3"/>
<circle cx="2105" cy="1726" r="45" fill="url(#bore4)" stroke="#14141e" stroke-width="3.2"/>
<path d="M2105 1681 A45 45 0 0 1 2105 1771 Z" fill="#7070a8" opacity="0.2"/>
<g transform="translate(2024.6 1645.7) rotate(0) scale(0.565)"><circle cx="0" cy="0" r="30" fill="#4a4622" stroke="#1c1a10" stroke-width="3"/><path d="M-27,-2 A27 27 0 0 1 -8,-26 L-6,-23 A24 24 0 0 0 -24,0 Z" fill="#d8d8d8"/><path d="M-17,19 L-25.5,11 A27.5 27.5 0 0 1 19,-21 L20.4,-17.5 Q2,-14 -8.4,-5 Q-14,4 -15.5,19.5 Z" fill="#f1ef88"/><path d="M-5,9 Q-2,0 8,-4 Q17,-9 24.5,-8 A27.5 27.5 0 0 1 3,27.5 Q-4,25 -5.5,18 Z" fill="#fcf8d4"/><path d="M-14,21 L-7,27 L-9,17 Z" fill="#f1ef88"/><path d="M1.5,-1.5 L6,7" stroke="#2a2810" stroke-width="2.4" fill="none" stroke-linecap="round"/></g>
<g transform="translate(2184.3 1645.7) rotate(90) scale(0.565)"><circle cx="0" cy="0" r="30" fill="#4a4622" stroke="#1c1a10" stroke-width="3"/><path d="M-27,-2 A27 27 0 0 1 -8,-26 L-6,-23 A24 24 0 0 0 -24,0 Z" fill="#d8d8d8"/><path d="M-17,19 L-25.5,11 A27.5 27.5 0 0 1 19,-21 L20.4,-17.5 Q2,-14 -8.4,-5 Q-14,4 -15.5,19.5 Z" fill="#f1ef88"/><path d="M-5,9 Q-2,0 8,-4 Q17,-9 24.5,-8 A27.5 27.5 0 0 1 3,27.5 Q-4,25 -5.5,18 Z" fill="#fcf8d4"/><path d="M-14,21 L-7,27 L-9,17 Z" fill="#f1ef88"/><path d="M1.5,-1.5 L6,7" stroke="#2a2810" stroke-width="2.4" fill="none" stroke-linecap="round"/></g>
<g transform="translate(2024.6 1806.2) rotate(-90) scale(0.565)"><circle cx="0" cy="0" r="30" fill="#4a4622" stroke="#1c1a10" stroke-width="3"/><path d="M-27,-2 A27 27 0 0 1 -8,-26 L-6,-23 A24 24 0 0 0 -24,0 Z" fill="#d8d8d8"/><path d="M-17,19 L-25.5,11 A27.5 27.5 0 0 1 19,-21 L20.4,-17.5 Q2,-14 -8.4,-5 Q-14,4 -15.5,19.5 Z" fill="#f1ef88"/><path d="M-5,9 Q-2,0 8,-4 Q17,-9 24.5,-8 A27.5 27.5 0 0 1 3,27.5 Q-4,25 -5.5,18 Z" fill="#fcf8d4"/><path d="M-14,21 L-7,27 L-9,17 Z" fill="#f1ef88"/><path d="M1.5,-1.5 L6,7" stroke="#2a2810" stroke-width="2.4" fill="none" stroke-linecap="round"/></g>
<g transform="translate(2184.3 1806.2) rotate(180) scale(0.565)"><circle cx="0" cy="0" r="30" fill="#4a4622" stroke="#1c1a10" stroke-width="3"/><path d="M-27,-2 A27 27 0 0 1 -8,-26 L-6,-23 A24 24 0 0 0 -24,0 Z" fill="#d8d8d8"/><path d="M-17,19 L-25.5,11 A27.5 27.5 0 0 1 19,-21 L20.4,-17.5 Q2,-14 -8.4,-5 Q-14,4 -15.5,19.5 Z" fill="#f1ef88"/><path d="M-5,9 Q-2,0 8,-4 Q17,-9 24.5,-8 A27.5 27.5 0 0 1 3,27.5 Q-4,25 -5.5,18 Z" fill="#fcf8d4"/><path d="M-14,21 L-7,27 L-9,17 Z" fill="#f1ef88"/><path d="M1.5,-1.5 L6,7" stroke="#2a2810" stroke-width="2.4" fill="none" stroke-linecap="round"/></g>
<line x1="1228.0" y1="1725.8" x2="1699.0" y2="1725.8" stroke="#111" stroke-width="2.20" />
<line x1="1710.0" y1="1725.8" x2="2470.0" y2="1725.8" stroke="#1c1c1c" stroke-width="1.80" />
<line x1="2105.3" y1="1313.8" x2="2105.3" y2="1396.6" stroke="#111" stroke-width="3.00" />
<line x1="2105.3" y1="1408.0" x2="2105.3" y2="1568.0" stroke="#111" stroke-width="3.00" />
<line x1="2105.3" y1="1568.0" x2="2105.3" y2="1845.0" stroke="#1a1a1a" stroke-width="1.80" stroke-dasharray="120 10 12 10"/>
<text x="1696.5" y="1311.2" font-size="65" text-anchor="middle" >Y</text>
<line x1="1289.2" y1="1313.4" x2="1289.2" y2="1411.0" stroke="#111" stroke-width="2.60" />
<line x1="1289.2" y1="1325.3" x2="2104.0" y2="1325.3" stroke="#111" stroke-width="2.20" />
<polygon fill="#0a0a0a" points="1289.5,1325.3 1335.5,1317.3 1328.5,1325.3 1335.5,1333.3"/>
<polygon fill="#0a0a0a" points="2104.5,1325.3 2058.5,1317.3 2065.5,1325.3 2058.5,1333.3"/>
<line x1="1228.0" y1="1418.2" x2="1280.6" y2="1418.2" stroke="#111" stroke-width="2.00" />
<line x1="1241.0" y1="1418.0" x2="1241.0" y2="1725.0" stroke="#111" stroke-width="2.20" />
<polygon fill="#0a0a0a" points="1241.0,1418.2 1233.0,1464.2 1241.0,1457.2 1249.0,1464.2"/>
<polygon fill="#0a0a0a" points="1241.0,1725.8 1233.0,1679.8 1241.0,1686.8 1249.0,1679.8"/>
<text transform="translate(1226.8,1572.7) rotate(-90)" font-size="65" text-anchor="middle">H</text>
</svg>
</body></html>
